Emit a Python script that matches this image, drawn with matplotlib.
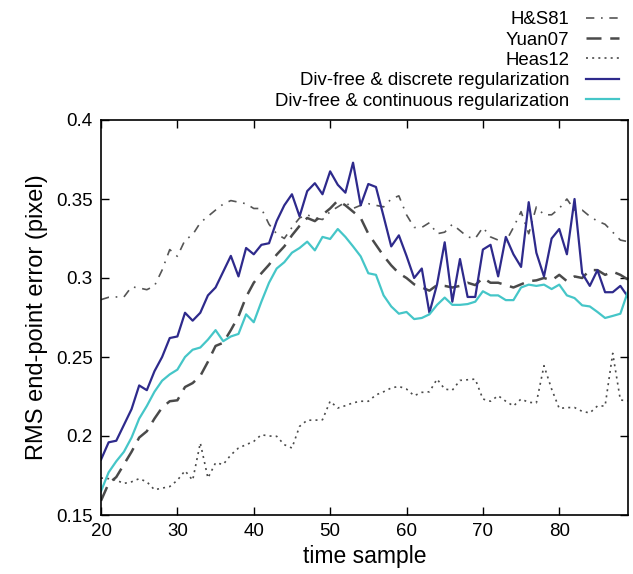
import numpy as np
import matplotlib
matplotlib.use("Agg")
import matplotlib.pyplot as plt

plt.rcParams["font.family"] = ["Liberation Sans", "DejaVu Sans"]

# Time samples 20..89
t = np.arange(20, 90)

hs81 = [0.2863, 0.2878, 0.288, 0.288, 0.2944, 0.2937, 0.2926, 0.295, 0.305, 0.318,
        0.3137, 0.324, 0.3274, 0.335, 0.339, 0.343, 0.3468, 0.349, 0.348, 0.347,
        0.344, 0.344, 0.334, 0.328, 0.325, 0.332, 0.338, 0.340, 0.338, 0.337,
        0.342, 0.345, 0.348, 0.344, 0.346, 0.347, 0.346, 0.345, 0.350, 0.352,
        0.340, 0.332, 0.332, 0.335, 0.328, 0.329, 0.334, 0.330, 0.326, 0.325,
        0.332, 0.326, 0.324, 0.323, 0.332, 0.342, 0.328, 0.345, 0.340, 0.340,
        0.344, 0.350, 0.343, 0.343, 0.339, 0.336, 0.334, 0.329, 0.324, 0.323]

yuan07 = [0.159, 0.170, 0.174, 0.182, 0.190, 0.199, 0.203, 0.211, 0.218, 0.222,
          0.2226, 0.231, 0.2335, 0.238, 0.247, 0.257, 0.259, 0.267, 0.2757, 0.288,
          0.297, 0.303, 0.3084, 0.3148, 0.320, 0.327, 0.333, 0.338, 0.336, 0.340,
          0.344, 0.349, 0.346, 0.342, 0.338, 0.328, 0.321, 0.314, 0.308, 0.303,
          0.300, 0.296, 0.294, 0.292, 0.2955, 0.295, 0.294, 0.295, 0.297, 0.2955,
          0.300, 0.297, 0.297, 0.2955, 0.294, 0.296, 0.298, 0.2985, 0.300, 0.2985,
          0.302, 0.298, 0.301, 0.300, 0.305, 0.305, 0.302, 0.304, 0.302, 0.299]

heas12 = [0.1734, 0.173, 0.172, 0.170, 0.171, 0.173, 0.171, 0.166, 0.167, 0.168,
          0.172, 0.178, 0.172, 0.1956, 0.1734, 0.183, 0.182, 0.188, 0.1924, 0.1945,
          0.1966, 0.2008, 0.200, 0.1998, 0.1945, 0.1924, 0.2061, 0.210, 0.210, 0.2103,
          0.222, 0.2177, 0.2192, 0.221, 0.222, 0.222, 0.226, 0.228, 0.2304, 0.2314,
          0.2297, 0.2255, 0.2276, 0.228, 0.236, 0.2297, 0.229, 0.2352, 0.2356, 0.236,
          0.2234, 0.222, 0.2255, 0.222, 0.219, 0.2234, 0.2213, 0.221, 0.2445, 0.2297,
          0.2174, 0.218, 0.218, 0.2156, 0.2146, 0.219, 0.219, 0.2523, 0.2228, 0.2222]

discrete = [0.185, 0.196, 0.197, 0.207, 0.217, 0.232, 0.229, 0.241, 0.250, 0.262,
            0.263, 0.278, 0.273, 0.278, 0.289, 0.294, 0.304, 0.314, 0.301, 0.319,
            0.315, 0.321, 0.322, 0.336, 0.346, 0.353, 0.339, 0.355, 0.360, 0.353,
            0.3675, 0.359, 0.354, 0.373, 0.346, 0.3595, 0.3576, 0.339, 0.320, 0.327,
            0.314, 0.300, 0.306, 0.278, 0.296, 0.3226, 0.285, 0.312, 0.288, 0.288,
            0.318, 0.321, 0.301, 0.326, 0.315, 0.307, 0.348, 0.316, 0.301, 0.325,
            0.331, 0.315, 0.350, 0.303, 0.295, 0.305, 0.291, 0.291, 0.295, 0.288]

continuous = [0.165, 0.177, 0.184, 0.190, 0.199, 0.211, 0.219, 0.228, 0.235, 0.239,
              0.242, 0.250, 0.2546, 0.256, 0.261, 0.267, 0.260, 0.263, 0.2646, 0.277,
              0.272, 0.285, 0.297, 0.306, 0.310, 0.316, 0.319, 0.323, 0.3175, 0.326,
              0.3247, 0.331, 0.326, 0.320, 0.3137, 0.303, 0.302, 0.289, 0.282, 0.2774,
              0.2785, 0.274, 0.2747, 0.277, 0.283, 0.2876, 0.283, 0.283, 0.2835, 0.285,
              0.2916, 0.289, 0.289, 0.286, 0.286, 0.294, 0.2958, 0.295, 0.2958, 0.293,
              0.2958, 0.289, 0.2873, 0.2827, 0.282, 0.2785, 0.2747, 0.276, 0.2774, 0.2916]

labels = ["H&S81", "Yuan07", "Heas12",
          "Div-free & discrete regularization",
          "Div-free & continuous regularization"]

fig = plt.figure(figsize=(6.33, 5.74), dpi=100)
ax = fig.add_axes([101 / 633, 59 / 574, 527 / 633, 395 / 574])

ax.plot(t, hs81, color="#555555", lw=1.2, ls=(0, (5, 4, 1, 4)), label=labels[0])
ax.plot(t, yuan07, color="#4a4a4a", lw=1.8, ls=(0, (6, 3.5)), label=labels[1])
ax.plot(t, heas12, color="#4a4a4a", lw=1.2, ls=(0, (1.2, 2.5)), label=labels[2])
ax.plot(t, discrete, color="#2e2a8c", lw=1.6, label=labels[3])
ax.plot(t, continuous, color="#45c6c8", lw=1.6, label=labels[4])

ax.set_xlim(20, 89)
ax.set_ylim(0.15, 0.4)
ax.set_xticks([20, 30, 40, 50, 60, 70, 80])
ax.set_yticks([0.15, 0.2, 0.25, 0.3, 0.35, 0.4])
ax.set_yticklabels(["0.15", "0.2", "0.25", "0.3", "0.35", "0.4"])
ax.tick_params(direction="in", length=6, width=1, top=True, right=True,
               labelsize=13.5, pad=6)
for sp in ax.spines.values():
  sp.set_linewidth(1.2)

ax.set_xlabel("time sample", fontsize=16.5, labelpad=3)
ax.set_ylabel("RMS end-point error (pixel)", fontsize=17, labelpad=6)

fig.legend(loc="upper right", bbox_to_anchor=(0.995, 1.0), frameon=False,
           markerfirst=False, fontsize=13.4, handlelength=1.75,
           labelspacing=0.18, borderpad=0.1, handletextpad=0.9)

fig.savefig("out.png", dpi=100)
